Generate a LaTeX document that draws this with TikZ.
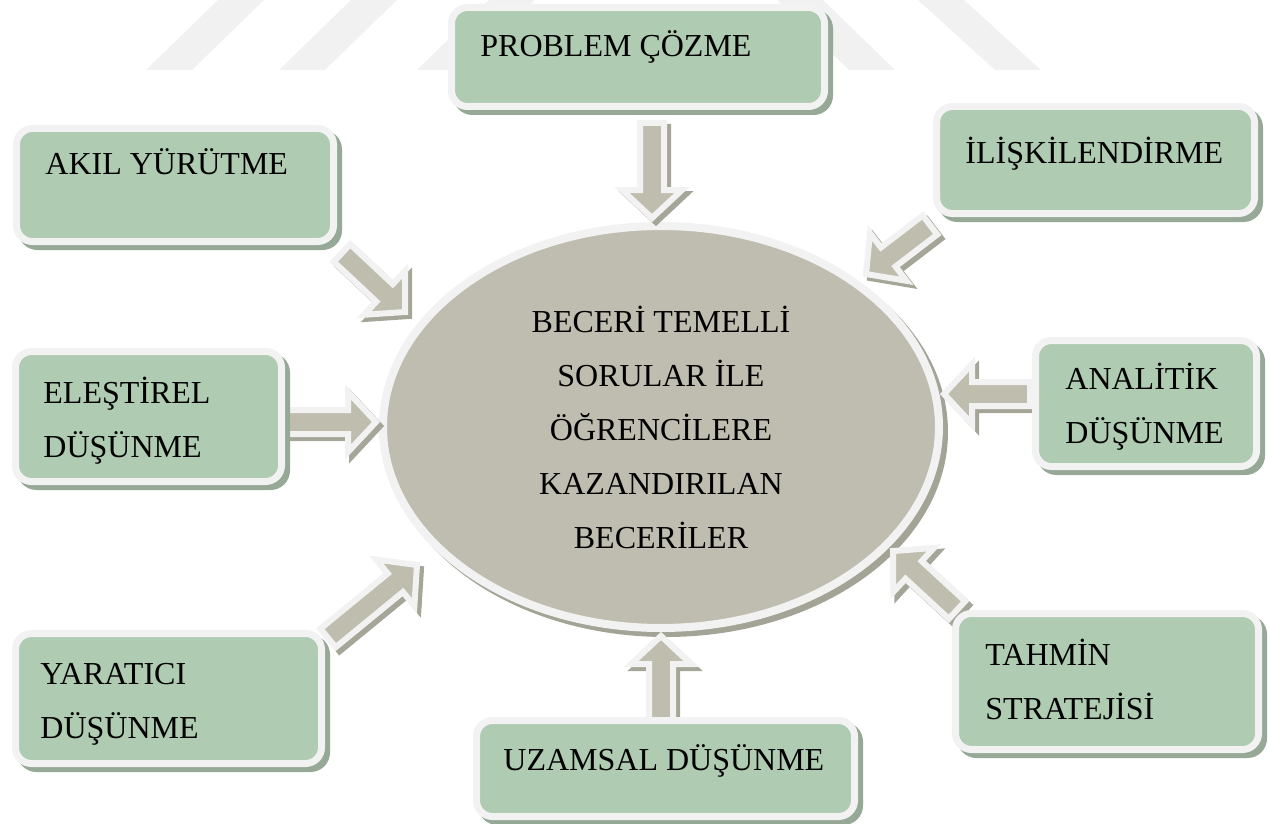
\documentclass[tikz,border=0pt]{standalone}
\usepackage{fontspec}
\setmainfont{Liberation Serif}
\usepackage{tikz}
\usetikzlibrary{shapes.geometric}
\usetikzlibrary{shadows}
\usetikzlibrary{calc}
\tikzset{>=latex}

\definecolor{boxgreen}{RGB}{175,203,177}
\definecolor{boxrim}{RGB}{242,242,242}
\definecolor{boxshade}{RGB}{150,168,150}
\definecolor{corefill}{RGB}{191,189,175}
\definecolor{coreshade}{RGB}{163,163,150}
\definecolor{arrowfill}{RGB}{191,190,174}
\definecolor{arrowshade}{RGB}{165,165,152}
\definecolor{wmark}{RGB}{241,241,241}

\tikzset{
  skillbox/.style={rectangle, rounded corners=8pt, fill=boxgreen, draw=boxrim, line width=3.5pt,
    drop shadow={shadow xshift=2.5pt, shadow yshift=-2.5pt, fill=boxshade, draw=boxshade, line width=3.5pt, opacity=1}},
  skilltext/.style={anchor=base west, inner sep=0pt, align=left, font=\fontsize{16pt}{27pt}\selectfont},
  core/.style={ellipse, fill=corefill, draw=boxrim, line width=4pt, inner sep=0pt, align=center,
    font=\fontsize{16pt}{27pt}\selectfont,
    drop shadow={shadow xshift=2.5pt, shadow yshift=-2.5pt, fill=coreshade, draw=coreshade, line width=4pt, opacity=1}},
  blockarrow/.style={fill=arrowfill, draw=boxrim, line width=3pt, line join=miter,
    drop shadow={shadow xshift=2pt, shadow yshift=-2pt, fill=arrowshade, draw=arrowshade, line width=3pt, opacity=1}}
}

\newcommand{\skillarrow}[2]{%
  \coordinate (hb) at ($(#2)!14pt!(#1)$);
  \filldraw[blockarrow] ($(#1)!6pt!90:(#2)$) -- ($(hb)!6pt!90:(#2)$) -- ($(hb)!15pt!90:(#2)$) -- (#2)
      -- ($(hb)!15pt!-90:(#2)$) -- ($(hb)!6pt!-90:(#2)$) -- ($(#1)!6pt!-90:(#2)$) -- cycle;
}

\begin{document}
\begin{tikzpicture}[x=0.5pt, y=-0.5pt]
      \useasboundingbox (0,0) rectangle (1269,824);
      \fill[wmark] (146,70) -- (192,70) -- (264,0) -- (218,0) -- cycle;
      \fill[wmark] (279,70) -- (325,70) -- (397,0) -- (351,0) -- cycle;
      \fill[wmark] (417,70) -- (463,70) -- (535,0) -- (489,0) -- cycle;
      \fill[wmark] (849,70) -- (895,70) -- (823,0) -- (777,0) -- cycle;
      \fill[wmark] (995,70) -- (1041,70) -- (964,0) -- (918,0) -- cycle;

      \node[core, minimum width=278pt, minimum height=201pt] (core) at (661,427)
        {BECERİ TEMELLİ\\SORULAR İLE\\ÖĞRENCİLERE\\KAZANDIRILAN\\BECERİLER};

      \coordinate (problemtail) at (652,123);  \coordinate (problemtip) at (652,218);
      \coordinate (akiltail) at (342,253);     \coordinate (akiltip) at (405,312);
      \coordinate (iliskitail) at (930,225);   \coordinate (iliskitip) at (866,274);
      \coordinate (elestireltail) at (275,422); \coordinate (elestireltip) at (376,422);
      \coordinate (analitiktail) at (1030,394); \coordinate (analitiktip) at (944,394);
      \coordinate (yaraticitail) at (328,638); \coordinate (yaraticitip) at (417,565);
      \coordinate (uzamsaltail) at (661,722);  \coordinate (uzamsaltip) at (661,636);
      \coordinate (tahmintail) at (957,610);   \coordinate (tahmintip) at (893,551);
      \skillarrow{problemtail}{problemtip}
      \skillarrow{akiltail}{akiltip}
      \skillarrow{iliskitail}{iliskitip}
      \skillarrow{elestireltail}{elestireltip}
      \skillarrow{analitiktail}{analitiktip}
      \skillarrow{yaraticitail}{yaraticitip}
      \skillarrow{uzamsaltail}{uzamsaltip}
      \skillarrow{tahmintail}{tahmintip}

      \node[skillbox, minimum width=186.5pt, minimum height=49.5pt] (problem) at (638,57) {};
      \node[skillbox, minimum width=158.5pt, minimum height=56.5pt] (akil) at (175,185) {};
      \node[skillbox, minimum width=159pt, minimum height=53.5pt] (iliski) at (1095.5,160) {};
      \node[skillbox, minimum width=133pt, minimum height=65pt] (elestirel) at (148.5,416.5) {};
      \node[skillbox, minimum width=110.5pt, minimum height=63pt] (analitik) at (1146,403.5) {};
      \node[skillbox, minimum width=153pt, minimum height=65pt] (yaratici) at (168.5,698.5) {};
      \node[skillbox, minimum width=189pt, minimum height=48pt] (uzamsal) at (665.5,768.5) {};
      \node[skillbox, minimum width=151.5pt, minimum height=68pt] (tahmin) at (1107,681.5) {};

      \node[skilltext] (problemtxt) at (480,57) {PROBLEM ÇÖZME};
      \node[skilltext] (akiltxt) at (45,175) {AKIL YÜRÜTME};
      \node[skilltext] (iliskitxt) at (965,163) {İLİŞKİLENDİRME};
      \node[skilltext] (elestireltxt) at (43,457) {ELEŞTİREL\\DÜŞÜNME};
      \node[skilltext] (analitiktxt) at (1065,443) {ANALİTİK\\DÜŞÜNME};
      \node[skilltext] (yaraticitxt) at (40,738) {YARATICI\\DÜŞÜNME};
      \node[skilltext] (uzamsaltxt) at (503,770) {UZAMSAL DÜŞÜNME};
      \node[skilltext] (tahmintxt) at (985,719) {TAHMİN\\STRATEJİSİ};
\end{tikzpicture}
\end{document}
